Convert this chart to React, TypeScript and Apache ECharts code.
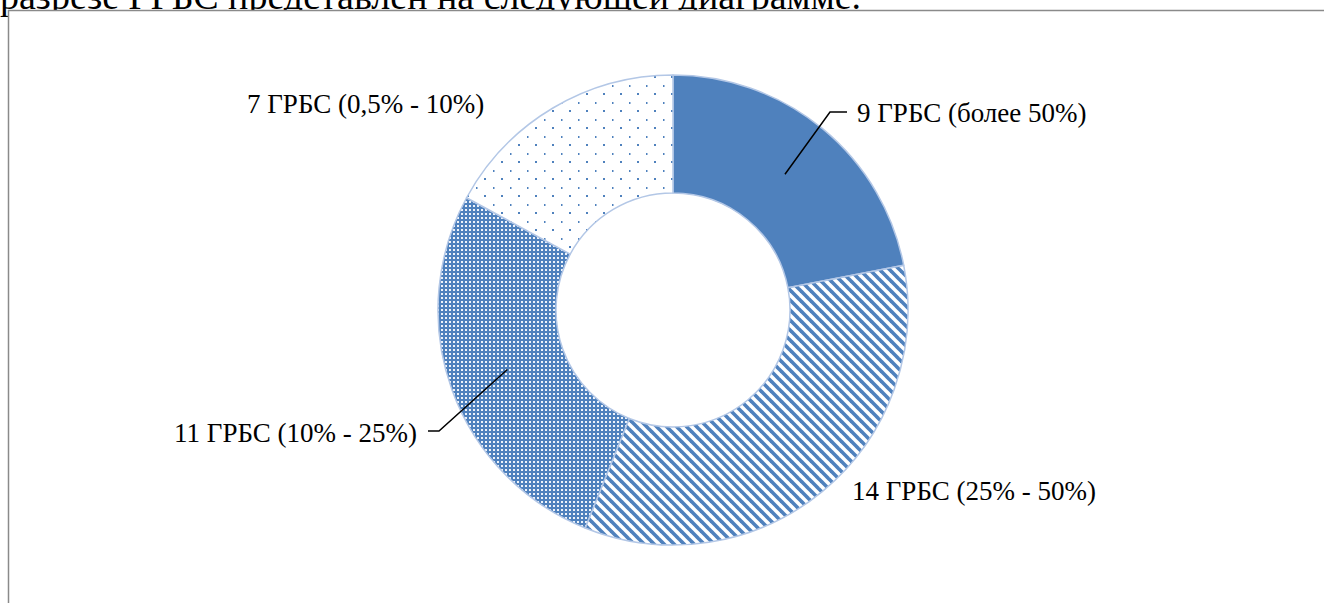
import React, { useEffect, useRef } from "react";
import * as echarts from "echarts";

const CATEGORIES = [
  "9 ГРБС (более 50%)",
  "14 ГРБС (25% - 50%)",
  "11 ГРБС (10% - 25%)",
  "7 ГРБС (0,5% - 10%)",
];
const VALUES = [9, 14, 11, 7];
const HEADER_TEXT = "разрезе ГРБС представлен на следующей диаграмме.";

// label anchor [x, y, align]
const LABEL_POS: [number, number, string][] = [
  [857, 113, "left"],
  [852, 491, "left"],
  [417, 433, "right"],
  [247, 104, "left"],
];
// leader elbows for slices that have leader lines: [index, elbowX, elbowY, endX]
const LEADERS: [number, number, number, number][] = [
  [0, 830, 112, 847],
  [2, 439, 431, 428],
];

const CENTER = [673, 310];
const R_IN = 117;
const R_OUT = 235;
const BLUE = "#4f81bd";

function makeStripes() {
  const c = document.createElement("canvas");
  c.width = 10;
  c.height = 10;
  const g = c.getContext("2d")!;
  g.strokeStyle = BLUE;
  g.lineWidth = 3.6;
  for (const o of [-10, 0, 10]) {
    g.beginPath();
    g.moveTo(o - 2, -2);
    g.lineTo(o + 12, 12);
    g.stroke();
  }
  return c;
}
function makeGrid() {
  const c = document.createElement("canvas");
  c.width = 4;
  c.height = 4;
  const g = c.getContext("2d")!;
  g.fillStyle = BLUE;
  g.fillRect(0, 0, 4, 4);
  g.fillStyle = "#eef3fa";
  g.fillRect(1, 1, 2, 2);
  return c;
}
function makeDots() {
  const c = document.createElement("canvas");
  c.width = 17;
  c.height = 17;
  const g = c.getContext("2d")!;
  g.fillStyle = "#ffffff";
  g.fillRect(0, 0, 17, 17);
  g.fillStyle = BLUE;
  g.fillRect(0, 0, 1.5, 2);
  g.fillRect(8, 8, 2, 2);
  return c;
}

export default function App() {
  const ref = useRef<HTMLDivElement>(null);
  useEffect(() => {
    const chart = echarts.init(ref.current!, null, { renderer: "svg" });
    const fills: any[] = [
      BLUE,
      { image: makeStripes(), repeat: "repeat" },
      { image: makeGrid(), repeat: "repeat" },
      { image: makeDots(), repeat: "repeat" },
    ];
    const total = VALUES.reduce((a, b) => a + b, 0);
    const midAngles: number[] = [];
    let acc = 0;
    VALUES.forEach((v) => {
      midAngles.push(((acc + v / 2) / total) * 2 * Math.PI);
      acc += v;
    });
    const rMid = (R_IN + R_OUT) / 2;
    const leaderGraphics = LEADERS.map(([i, ex, ey, endX]) => {
      const a = midAngles[i];
      const sx = CENTER[0] + rMid * Math.sin(a);
      const sy = CENTER[1] - rMid * Math.cos(a);
      return {
        type: "polyline",
        silent: true,
        z: 100,
        shape: { points: [[sx, sy], [ex, ey], [endX, ey]] },
        style: { stroke: "#000000", lineWidth: 1.5, fill: null },
      };
    });

    chart.setOption({
      animation: false,
      backgroundColor: "#ffffff",
      graphic: [
        {
          type: "text",
          x: 0,
          y: 15,
          style: {
            text: HEADER_TEXT,
            font: '38px "Liberation Serif"',
            fill: "#000000",
            textVerticalAlign: "bottom",
          },
        },
        {
          type: "rect",
          shape: { x: 8, y: 10, width: 1316, height: 593 },
          style: { fill: "#ffffff", stroke: null },
        },
        {
          type: "line",
          shape: { x1: 8, y1: 10.5, x2: 1324, y2: 10.5 },
          style: { stroke: "#8a8a8a", lineWidth: 1.5 },
        },
        {
          type: "line",
          shape: { x1: 8.5, y1: 10, x2: 8.5, y2: 603 },
          style: { stroke: "#8a8a8a", lineWidth: 1.5 },
        },
        ...leaderGraphics,
      ],
      series: [
        {
          type: "pie",
          center: CENTER,
          radius: [R_IN, R_OUT],
          startAngle: 90,
          clockwise: true,
          silent: true,
          emphasis: { disabled: true },
          itemStyle: { borderColor: "#b3c7e6", borderWidth: 1.5 },
          label: {
            show: true,
            formatter: "{b}",
            color: "#000000",
            fontFamily: "Liberation Serif",
            fontSize: 27,
          },
          labelLine: { show: false },
          labelLayout: (params: any) => {
            const p = LABEL_POS[params.dataIndex];
            return { x: p[0], y: p[1], align: p[2], verticalAlign: "middle" };
          },
          data: CATEGORIES.map((name, i) => ({
            name,
            value: VALUES[i],
            itemStyle: { color: fills[i] },
          })),
        },
      ],
    });
    return () => chart.dispose();
  }, []);
  return (
    <div
      ref={ref}
      style={{ position: "fixed", left: 0, top: 0, width: 1324, height: 603 }}
    />
  );
}
